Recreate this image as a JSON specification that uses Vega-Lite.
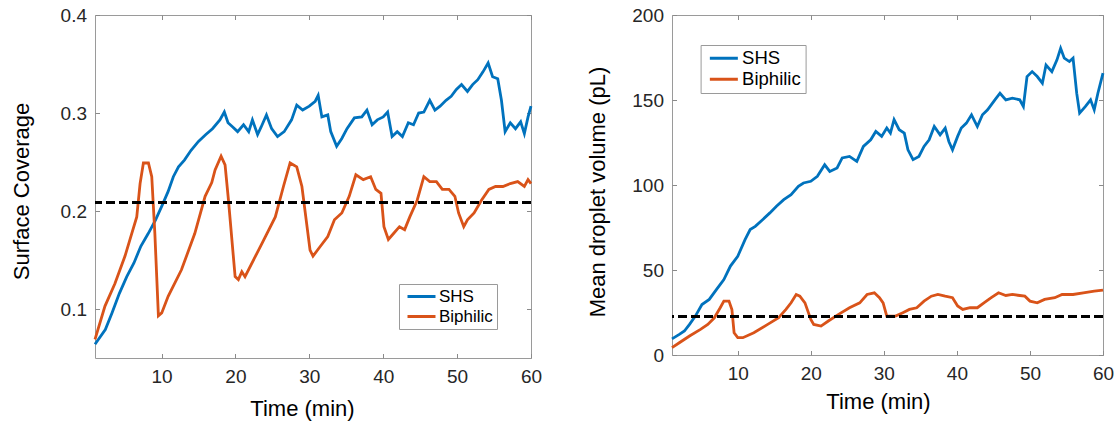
{
  "$schema": "https://vega.github.io/schema/vega-lite/v6.json",
  "padding": {"left": 9, "top": 5, "right": 5, "bottom": 5},
  "background": "white",
  "config": {
    "view": {"stroke": "#9a9a9a", "strokeWidth": 1},
    "font": "Liberation Sans",
    "axis": {
      "domain": false,
      "grid": false,
      "tickSize": -4.5,
      "tickColor": "#8a8a8a",
      "tickWidth": 1,
      "labelFontSize": 19,
      "labelColor": "#262626",
      "labelFont": "Liberation Sans",
      "labelFlush": false,
      "labelOverlap": false,
      "titleFont": "Liberation Sans",
      "titleFontSize": 22,
      "titleFontWeight": "normal",
      "titleColor": "#000000"
    },
    "axisX": {"labelPadding": 13.5},
    "axisY": {"labelPadding": 13},
    "legend": {
      "orient": "none",
      "title": null,
      "symbolType": "M-0.8,0H4.8",
      "symbolSize": 100,
      "symbolStrokeWidth": 3,
      "labelFont": "Liberation Sans",
      "labelColor": "#000000",
      "labelOffset": 19,
      "padding": 4,
      "rowPadding": 2,
      "strokeColor": "#9a9a9a",
      "fillColor": "white"
    }
  },
  "datasets": {
    "cov": [
      {"t": 1, "v": 0.064, "s": "SHS"}, {"t": 2.4, "v": 0.079, "s": "SHS"}, {"t": 3.3, "v": 0.096, "s": "SHS"}, {"t": 4.3, "v": 0.116, "s": "SHS"}, {"t": 5.3, "v": 0.133, "s": "SHS"}, {"t": 6.27, "v": 0.147, "s": "SHS"}, {"t": 7.2, "v": 0.164, "s": "SHS"}, {"t": 8.2, "v": 0.177, "s": "SHS"}, {"t": 9.2, "v": 0.191, "s": "SHS"}, {"t": 10.1, "v": 0.206, "s": "SHS"}, {"t": 10.9, "v": 0.22, "s": "SHS"}, {"t": 11.6, "v": 0.235, "s": "SHS"}, {"t": 12.3, "v": 0.245, "s": "SHS"}, {"t": 13.1, "v": 0.252, "s": "SHS"}, {"t": 14, "v": 0.262, "s": "SHS"}, {"t": 15, "v": 0.271, "s": "SHS"}, {"t": 16, "v": 0.278, "s": "SHS"}, {"t": 16.9, "v": 0.284, "s": "SHS"}, {"t": 17.9, "v": 0.293, "s": "SHS"}, {"t": 18.5, "v": 0.301, "s": "SHS"}, {"t": 19, "v": 0.29, "s": "SHS"}, {"t": 19.6, "v": 0.286, "s": "SHS"}, {"t": 20.3, "v": 0.281, "s": "SHS"}, {"t": 21.1, "v": 0.288, "s": "SHS"}, {"t": 21.8, "v": 0.281, "s": "SHS"}, {"t": 22.3, "v": 0.293, "s": "SHS"}, {"t": 23, "v": 0.278, "s": "SHS"}, {"t": 23.5, "v": 0.286, "s": "SHS"}, {"t": 24.2, "v": 0.298, "s": "SHS"}, {"t": 24.9, "v": 0.284, "s": "SHS"}, {"t": 25.7, "v": 0.276, "s": "SHS"}, {"t": 26.6, "v": 0.281, "s": "SHS"}, {"t": 27.6, "v": 0.293, "s": "SHS"}, {"t": 28.3, "v": 0.308, "s": "SHS"}, {"t": 29.1, "v": 0.303, "s": "SHS"}, {"t": 30, "v": 0.307, "s": "SHS"}, {"t": 30.8, "v": 0.312, "s": "SHS"}, {"t": 31.2, "v": 0.318, "s": "SHS"}, {"t": 31.7, "v": 0.296, "s": "SHS"}, {"t": 32.5, "v": 0.298, "s": "SHS"}, {"t": 32.9, "v": 0.281, "s": "SHS"}, {"t": 33.7, "v": 0.266, "s": "SHS"}, {"t": 34.4, "v": 0.274, "s": "SHS"}, {"t": 35.1, "v": 0.284, "s": "SHS"}, {"t": 36.1, "v": 0.295, "s": "SHS"}, {"t": 37.1, "v": 0.296, "s": "SHS"}, {"t": 37.8, "v": 0.303, "s": "SHS"}, {"t": 38.5, "v": 0.288, "s": "SHS"}, {"t": 39.2, "v": 0.293, "s": "SHS"}, {"t": 40, "v": 0.296, "s": "SHS"}, {"t": 40.6, "v": 0.301, "s": "SHS"}, {"t": 41.2, "v": 0.276, "s": "SHS"}, {"t": 41.9, "v": 0.281, "s": "SHS"}, {"t": 42.6, "v": 0.276, "s": "SHS"}, {"t": 43.4, "v": 0.29, "s": "SHS"}, {"t": 44.1, "v": 0.288, "s": "SHS"}, {"t": 44.8, "v": 0.3, "s": "SHS"}, {"t": 45.5, "v": 0.301, "s": "SHS"}, {"t": 46.3, "v": 0.313, "s": "SHS"}, {"t": 47, "v": 0.303, "s": "SHS"}, {"t": 47.7, "v": 0.307, "s": "SHS"}, {"t": 48.5, "v": 0.313, "s": "SHS"}, {"t": 49.2, "v": 0.317, "s": "SHS"}, {"t": 49.9, "v": 0.324, "s": "SHS"}, {"t": 50.6, "v": 0.329, "s": "SHS"}, {"t": 51.4, "v": 0.322, "s": "SHS"}, {"t": 52.1, "v": 0.329, "s": "SHS"}, {"t": 52.8, "v": 0.334, "s": "SHS"}, {"t": 53.5, "v": 0.342, "s": "SHS"}, {"t": 54.2, "v": 0.351, "s": "SHS"}, {"t": 54.8, "v": 0.337, "s": "SHS"}, {"t": 55.5, "v": 0.335, "s": "SHS"}, {"t": 56, "v": 0.313, "s": "SHS"}, {"t": 56.5, "v": 0.281, "s": "SHS"}, {"t": 57.2, "v": 0.29, "s": "SHS"}, {"t": 57.9, "v": 0.284, "s": "SHS"}, {"t": 58.6, "v": 0.291, "s": "SHS"}, {"t": 59.1, "v": 0.279, "s": "SHS"}, {"t": 59.6, "v": 0.296, "s": "SHS"}, {"t": 60, "v": 0.307, "s": "SHS"},
      {"t": 1, "v": 0.069, "s": "Biphilic"}, {"t": 2.35, "v": 0.103, "s": "Biphilic"}, {"t": 3.7, "v": 0.126, "s": "Biphilic"}, {"t": 5.06, "v": 0.154, "s": "Biphilic"}, {"t": 5.97, "v": 0.177, "s": "Biphilic"}, {"t": 6.65, "v": 0.194, "s": "Biphilic"}, {"t": 7.1, "v": 0.228, "s": "Biphilic"}, {"t": 7.55, "v": 0.249, "s": "Biphilic"}, {"t": 8.23, "v": 0.249, "s": "Biphilic"}, {"t": 8.68, "v": 0.235, "s": "Biphilic"}, {"t": 9.1, "v": 0.177, "s": "Biphilic"}, {"t": 9.58, "v": 0.093, "s": "Biphilic"}, {"t": 10.03, "v": 0.096, "s": "Biphilic"}, {"t": 10.9, "v": 0.113, "s": "Biphilic"}, {"t": 12.7, "v": 0.14, "s": "Biphilic"}, {"t": 14.5, "v": 0.177, "s": "Biphilic"}, {"t": 15.9, "v": 0.215, "s": "Biphilic"}, {"t": 16.8, "v": 0.229, "s": "Biphilic"}, {"t": 17.25, "v": 0.242, "s": "Biphilic"}, {"t": 18.06, "v": 0.256, "s": "Biphilic"}, {"t": 18.6, "v": 0.247, "s": "Biphilic"}, {"t": 19.06, "v": 0.211, "s": "Biphilic"}, {"t": 19.96, "v": 0.133, "s": "Biphilic"}, {"t": 20.4, "v": 0.13, "s": "Biphilic"}, {"t": 20.87, "v": 0.138, "s": "Biphilic"}, {"t": 21.3, "v": 0.133, "s": "Biphilic"}, {"t": 23.6, "v": 0.167, "s": "Biphilic"}, {"t": 25.4, "v": 0.194, "s": "Biphilic"}, {"t": 26.5, "v": 0.225, "s": "Biphilic"}, {"t": 27.4, "v": 0.249, "s": "Biphilic"}, {"t": 28.3, "v": 0.245, "s": "Biphilic"}, {"t": 29, "v": 0.225, "s": "Biphilic"}, {"t": 30.1, "v": 0.16, "s": "Biphilic"}, {"t": 30.5, "v": 0.154, "s": "Biphilic"}, {"t": 31.5, "v": 0.164, "s": "Biphilic"}, {"t": 32.5, "v": 0.174, "s": "Biphilic"}, {"t": 33.4, "v": 0.191, "s": "Biphilic"}, {"t": 34.4, "v": 0.198, "s": "Biphilic"}, {"t": 35.4, "v": 0.215, "s": "Biphilic"}, {"t": 36.3, "v": 0.237, "s": "Biphilic"}, {"t": 37.3, "v": 0.232, "s": "Biphilic"}, {"t": 38.3, "v": 0.235, "s": "Biphilic"}, {"t": 39, "v": 0.222, "s": "Biphilic"}, {"t": 39.7, "v": 0.218, "s": "Biphilic"}, {"t": 40.1, "v": 0.184, "s": "Biphilic"}, {"t": 40.7, "v": 0.171, "s": "Biphilic"}, {"t": 41.4, "v": 0.177, "s": "Biphilic"}, {"t": 42.2, "v": 0.184, "s": "Biphilic"}, {"t": 42.9, "v": 0.181, "s": "Biphilic"}, {"t": 43.6, "v": 0.194, "s": "Biphilic"}, {"t": 44.6, "v": 0.211, "s": "Biphilic"}, {"t": 45.5, "v": 0.235, "s": "Biphilic"}, {"t": 46.3, "v": 0.23, "s": "Biphilic"}, {"t": 47.2, "v": 0.23, "s": "Biphilic"}, {"t": 48, "v": 0.222, "s": "Biphilic"}, {"t": 48.9, "v": 0.222, "s": "Biphilic"}, {"t": 49.7, "v": 0.215, "s": "Biphilic"}, {"t": 50.2, "v": 0.198, "s": "Biphilic"}, {"t": 50.9, "v": 0.184, "s": "Biphilic"}, {"t": 51.4, "v": 0.191, "s": "Biphilic"}, {"t": 52.3, "v": 0.198, "s": "Biphilic"}, {"t": 53.3, "v": 0.211, "s": "Biphilic"}, {"t": 54.3, "v": 0.222, "s": "Biphilic"}, {"t": 55.2, "v": 0.225, "s": "Biphilic"}, {"t": 56.2, "v": 0.225, "s": "Biphilic"}, {"t": 57.2, "v": 0.228, "s": "Biphilic"}, {"t": 58.2, "v": 0.23, "s": "Biphilic"}, {"t": 59.1, "v": 0.225, "s": "Biphilic"}, {"t": 59.6, "v": 0.232, "s": "Biphilic"}, {"t": 60, "v": 0.228, "s": "Biphilic"}
    ],
    "vol": [
      {"t": 1, "v": 9.5, "s": "SHS"}, {"t": 2, "v": 12.1, "s": "SHS"}, {"t": 2.7, "v": 14.1, "s": "SHS"}, {"t": 3.4, "v": 18, "s": "SHS"}, {"t": 4.2, "v": 22.9, "s": "SHS"}, {"t": 5.1, "v": 29.7, "s": "SHS"}, {"t": 6.1, "v": 32.7, "s": "SHS"}, {"t": 7.1, "v": 38.6, "s": "SHS"}, {"t": 8.1, "v": 44.4, "s": "SHS"}, {"t": 9, "v": 52.3, "s": "SHS"}, {"t": 10, "v": 58.1, "s": "SHS"}, {"t": 11, "v": 67.9, "s": "SHS"}, {"t": 11.7, "v": 73.8, "s": "SHS"}, {"t": 12.4, "v": 75.7, "s": "SHS"}, {"t": 13.4, "v": 79.6, "s": "SHS"}, {"t": 14.4, "v": 83.6, "s": "SHS"}, {"t": 15.3, "v": 87.5, "s": "SHS"}, {"t": 16.3, "v": 91.4, "s": "SHS"}, {"t": 17.3, "v": 94.3, "s": "SHS"}, {"t": 18.3, "v": 99.2, "s": "SHS"}, {"t": 19, "v": 101.2, "s": "SHS"}, {"t": 20, "v": 102.2, "s": "SHS"}, {"t": 20.9, "v": 105.1, "s": "SHS"}, {"t": 21.9, "v": 111.9, "s": "SHS"}, {"t": 22.6, "v": 108, "s": "SHS"}, {"t": 23.6, "v": 110, "s": "SHS"}, {"t": 24.3, "v": 115.9, "s": "SHS"}, {"t": 25.3, "v": 116.8, "s": "SHS"}, {"t": 26.3, "v": 113.9, "s": "SHS"}, {"t": 27.2, "v": 122.7, "s": "SHS"}, {"t": 28.2, "v": 126.6, "s": "SHS"}, {"t": 28.9, "v": 131.5, "s": "SHS"}, {"t": 29.7, "v": 128.6, "s": "SHS"}, {"t": 30.4, "v": 133.5, "s": "SHS"}, {"t": 30.9, "v": 130.5, "s": "SHS"}, {"t": 31.4, "v": 138.4, "s": "SHS"}, {"t": 32.1, "v": 132.5, "s": "SHS"}, {"t": 32.8, "v": 130.5, "s": "SHS"}, {"t": 33.3, "v": 120.7, "s": "SHS"}, {"t": 34, "v": 114.9, "s": "SHS"}, {"t": 34.8, "v": 116.8, "s": "SHS"}, {"t": 35.5, "v": 122.7, "s": "SHS"}, {"t": 36.2, "v": 126.6, "s": "SHS"}, {"t": 36.9, "v": 134.4, "s": "SHS"}, {"t": 37.7, "v": 129.5, "s": "SHS"}, {"t": 38.4, "v": 133.5, "s": "SHS"}, {"t": 38.9, "v": 125.6, "s": "SHS"}, {"t": 39.4, "v": 120.7, "s": "SHS"}, {"t": 40.1, "v": 128.6, "s": "SHS"}, {"t": 40.6, "v": 133.5, "s": "SHS"}, {"t": 41.3, "v": 136.4, "s": "SHS"}, {"t": 42, "v": 141.3, "s": "SHS"}, {"t": 42.8, "v": 134.4, "s": "SHS"}, {"t": 43.5, "v": 141.3, "s": "SHS"}, {"t": 44.2, "v": 144.2, "s": "SHS"}, {"t": 45.2, "v": 150.1, "s": "SHS"}, {"t": 45.9, "v": 154, "s": "SHS"}, {"t": 46.7, "v": 150.1, "s": "SHS"}, {"t": 47.6, "v": 151.1, "s": "SHS"}, {"t": 48.6, "v": 150.1, "s": "SHS"}, {"t": 49.1, "v": 146.2, "s": "SHS"}, {"t": 49.6, "v": 163.8, "s": "SHS"}, {"t": 50.3, "v": 166.7, "s": "SHS"}, {"t": 51, "v": 163.8, "s": "SHS"}, {"t": 51.7, "v": 159.9, "s": "SHS"}, {"t": 52.2, "v": 170.6, "s": "SHS"}, {"t": 53, "v": 166.7, "s": "SHS"}, {"t": 53.7, "v": 173.6, "s": "SHS"}, {"t": 54.2, "v": 180.4, "s": "SHS"}, {"t": 54.7, "v": 174.6, "s": "SHS"}, {"t": 55.4, "v": 172.6, "s": "SHS"}, {"t": 55.9, "v": 174.6, "s": "SHS"}, {"t": 56.4, "v": 154, "s": "SHS"}, {"t": 56.8, "v": 142.3, "s": "SHS"}, {"t": 57.6, "v": 146.2, "s": "SHS"}, {"t": 58.3, "v": 150.1, "s": "SHS"}, {"t": 58.8, "v": 144.2, "s": "SHS"}, {"t": 59.3, "v": 154, "s": "SHS"}, {"t": 60, "v": 165.8, "s": "SHS"},
      {"t": 1, "v": 4.3, "s": "Biphilic"}, {"t": 2, "v": 7.2, "s": "Biphilic"}, {"t": 3.4, "v": 11.2, "s": "Biphilic"}, {"t": 4.9, "v": 15.1, "s": "Biphilic"}, {"t": 5.9, "v": 18, "s": "Biphilic"}, {"t": 6.8, "v": 21.9, "s": "Biphilic"}, {"t": 7.6, "v": 27.8, "s": "Biphilic"}, {"t": 8.1, "v": 31.7, "s": "Biphilic"}, {"t": 8.8, "v": 31.7, "s": "Biphilic"}, {"t": 9.2, "v": 26.8, "s": "Biphilic"}, {"t": 9.5, "v": 13.1, "s": "Biphilic"}, {"t": 10, "v": 10.2, "s": "Biphilic"}, {"t": 10.7, "v": 10.2, "s": "Biphilic"}, {"t": 12.2, "v": 13.1, "s": "Biphilic"}, {"t": 14.1, "v": 18, "s": "Biphilic"}, {"t": 15.6, "v": 21.9, "s": "Biphilic"}, {"t": 16.6, "v": 26.8, "s": "Biphilic"}, {"t": 17.3, "v": 30.7, "s": "Biphilic"}, {"t": 18, "v": 35.6, "s": "Biphilic"}, {"t": 18.5, "v": 34.6, "s": "Biphilic"}, {"t": 19.2, "v": 30.7, "s": "Biphilic"}, {"t": 20, "v": 20.9, "s": "Biphilic"}, {"t": 20.4, "v": 18, "s": "Biphilic"}, {"t": 21.4, "v": 17, "s": "Biphilic"}, {"t": 22.4, "v": 20, "s": "Biphilic"}, {"t": 23.8, "v": 23.9, "s": "Biphilic"}, {"t": 25.3, "v": 27.8, "s": "Biphilic"}, {"t": 26.7, "v": 30.7, "s": "Biphilic"}, {"t": 27.7, "v": 35.6, "s": "Biphilic"}, {"t": 28.7, "v": 36.6, "s": "Biphilic"}, {"t": 29.4, "v": 33.7, "s": "Biphilic"}, {"t": 29.9, "v": 30.7, "s": "Biphilic"}, {"t": 30.4, "v": 22.9, "s": "Biphilic"}, {"t": 31.6, "v": 22.9, "s": "Biphilic"}, {"t": 32.6, "v": 24.9, "s": "Biphilic"}, {"t": 33.5, "v": 26.8, "s": "Biphilic"}, {"t": 34.5, "v": 27.8, "s": "Biphilic"}, {"t": 35.5, "v": 31.7, "s": "Biphilic"}, {"t": 36.5, "v": 34.6, "s": "Biphilic"}, {"t": 37.4, "v": 35.6, "s": "Biphilic"}, {"t": 38.4, "v": 34.6, "s": "Biphilic"}, {"t": 39.4, "v": 33.7, "s": "Biphilic"}, {"t": 40.1, "v": 28.8, "s": "Biphilic"}, {"t": 40.8, "v": 26.8, "s": "Biphilic"}, {"t": 41.8, "v": 27.8, "s": "Biphilic"}, {"t": 42.8, "v": 27.8, "s": "Biphilic"}, {"t": 43.7, "v": 30.7, "s": "Biphilic"}, {"t": 44.7, "v": 33.7, "s": "Biphilic"}, {"t": 45.7, "v": 36.6, "s": "Biphilic"}, {"t": 46.7, "v": 35, "s": "Biphilic"}, {"t": 47.6, "v": 35.6, "s": "Biphilic"}, {"t": 48.6, "v": 35, "s": "Biphilic"}, {"t": 49.3, "v": 34.6, "s": "Biphilic"}, {"t": 50, "v": 31.7, "s": "Biphilic"}, {"t": 51, "v": 30.7, "s": "Biphilic"}, {"t": 52, "v": 32.7, "s": "Biphilic"}, {"t": 53.4, "v": 33.7, "s": "Biphilic"}, {"t": 54.4, "v": 35.6, "s": "Biphilic"}, {"t": 55.9, "v": 35.6, "s": "Biphilic"}, {"t": 57.3, "v": 36.6, "s": "Biphilic"}, {"t": 58.8, "v": 37.6, "s": "Biphilic"}, {"t": 60, "v": 38.2, "s": "Biphilic"}
    ]
  },
  "spacing": 42,
  "resolve": {"scale": {"color": "independent"}, "legend": {"color": "independent"}},
  "hconcat": [
    {
      "width": 436,
      "height": 343,
      "data": {"name": "cov"},
      "resolve": {"axis": {"x": "independent", "y": "independent"}},
      "layer": [
        {
          "mark": {"type": "line", "strokeWidth": 2.8},
          "encoding": {
            "x": {"field": "t", "type": "quantitative", "scale": {"domain": [1, 60], "nice": false, "zero": false},
              "axis": {"orient": "bottom", "values": [10, 20, 30, 40, 50, 60], "title": "Time (min)", "titleX": 207, "titleY": 57, "titleBaseline": "alphabetic", "titleAlign": "center"}},
            "y": {"field": "v", "type": "quantitative", "scale": {"domain": [0.05, 0.4], "nice": false, "zero": false},
              "axis": {"orient": "left", "values": [0.1, 0.2, 0.3, 0.4], "format": ".1f", "title": "Surface Coverage", "titleX": -66.8, "titleY": 176, "titleBaseline": "alphabetic", "titleAlign": "center", "titleAngle": -90}},
            "color": {"field": "s", "type": "nominal", "scale": {"domain": ["SHS", "Biphilic"], "range": ["#0072BD", "#D95319"]},
              "legend": {"legendX": 304, "legendY": 269, "labelFontSize": 17}}
          }
        },
        {
          "mark": {"type": "rule", "color": "#000000", "strokeWidth": 2, "strokeDash": [8.5, 4.5]},
          "encoding": {"y": {"datum": 0.209, "type": "quantitative", "axis": null}}
        },
        {
          "mark": {"type": "line", "opacity": 0},
          "encoding": {
            "x": {"field": "t", "type": "quantitative", "axis": {"orient": "top", "values": [10, 20, 30, 40, 50, 60], "labels": false, "title": null}},
            "y": {"field": "v", "type": "quantitative", "axis": {"orient": "right", "values": [0.1, 0.2, 0.3, 0.4], "labels": false, "title": null}}
          }
        }
      ]
    },
    {
      "width": 431,
      "height": 340,
      "data": {"name": "vol"},
      "resolve": {"axis": {"x": "independent", "y": "independent"}},
      "layer": [
        {
          "mark": {"type": "line", "strokeWidth": 2.8},
          "encoding": {
            "x": {"field": "t", "type": "quantitative", "scale": {"domain": [1, 60], "nice": false, "zero": false},
              "axis": {"orient": "bottom", "values": [10, 20, 30, 40, 50, 60], "title": "Time (min)", "titleX": 206, "titleY": 53, "titleBaseline": "alphabetic", "titleAlign": "center"}},
            "y": {"field": "v", "type": "quantitative", "scale": {"domain": [0, 200], "nice": false, "zero": false},
              "axis": {"orient": "left", "values": [0, 50, 100, 150, 200], "title": "Mean droplet volume (pL)", "titleX": -68, "titleY": 176.5, "titleBaseline": "alphabetic", "titleAlign": "center", "titleAngle": -90}},
            "color": {"field": "s", "type": "nominal", "scale": {"domain": ["SHS", "Biphilic"], "range": ["#0072BD", "#D95319"]},
              "legend": {"legendX": 28.6, "legendY": 30, "labelFontSize": 18.5}}
          }
        },
        {
          "mark": {"type": "rule", "color": "#000000", "strokeWidth": 2, "strokeDash": [8.5, 4.5]},
          "encoding": {"y": {"datum": 22.5, "type": "quantitative", "axis": null}}
        },
        {
          "mark": {"type": "line", "opacity": 0},
          "encoding": {
            "x": {"field": "t", "type": "quantitative", "axis": {"orient": "top", "values": [10, 20, 30, 40, 50, 60], "labels": false, "title": null}},
            "y": {"field": "v", "type": "quantitative", "axis": {"orient": "right", "values": [0, 50, 100, 150, 200], "labels": false, "title": null}}
          }
        }
      ]
    }
  ]
}
